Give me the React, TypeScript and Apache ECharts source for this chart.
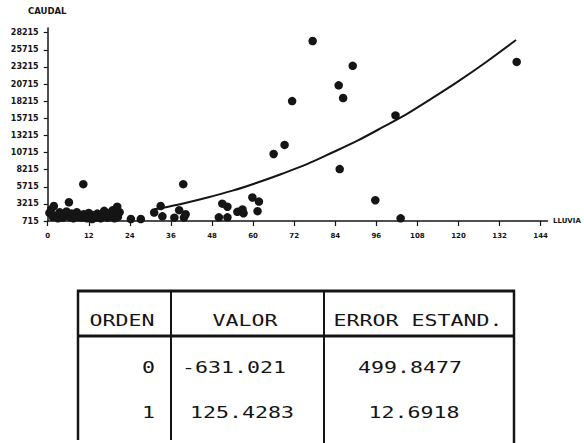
import React, { useEffect, useRef } from "react";
import * as echarts from "echarts";

const caudalTicks = [715, 3215, 5715, 8215, 10715, 13215, 15715, 18215, 20715, 23215, 25715, 28215];
const lluviaTicks = [0, 12, 24, 36, 48, 60, 72, 84, 96, 108, 120, 132, 144];

const obsLluvia = [
  0.5, 1, 1.5, 1.8, 2.5, 3, 3.5, 4, 4.5, 5, 5.5, 6.2, 6.5, 7, 7.5, 8, 8.5, 9, 10.4, 10, 10.5, 11,
  11.5, 12, 12.5, 13, 13.5, 14, 14.5, 15, 15.5, 16, 16.5, 17, 17.5, 18, 18.5, 19, 19.5, 20, 20.3,
  20.5, 21,
  24.3, 27.2, 31.1, 33, 33.5, 37, 38.4, 39.8, 40.3, 39.6,
  50, 52.5, 51, 52.5, 55.4, 56.9, 57.2, 59.8, 61.7, 61.3,
  66, 69.2, 71.4, 77.4, 85, 86.3, 85.3, 89.1, 95.7, 101.6, 103.1, 137,
];
const obsCaudal = [
  1900, 2400, 1300, 2900, 1500, 1100, 2000, 1700, 1200, 1500, 2100, 3450, 1300, 1800, 1100, 1500,
  2000, 1300, 6100, 1200, 1700, 1400, 1100, 1900, 1300, 1000, 1600, 1200, 1800, 1400, 1100, 1700,
  2200, 1500, 1200, 1900, 1500, 2300, 1100, 1800, 2800, 1300, 2000,
  1000, 1000, 1950, 2900, 1400, 1200, 2300, 1200, 1700, 6100,
  1250, 1250, 3250, 2800, 2050, 2400, 1850, 4150, 3550, 2150,
  10500, 11830, 18230, 27000, 20530, 18670, 8300, 23370, 3750, 16130, 1100, 23950,
];

const curveLluvia = [31.1, 38, 46.7, 54, 61.3, 68.5, 75.9, 83, 90.5, 98, 105.1, 112, 119.7, 128, 136.8];
const curveCaudal = [2430, 3100, 4150, 5150, 6330, 7620, 9050, 10680, 12450, 14450, 16400, 18550, 21030, 23900, 27140];

const tableHeader = ["ORDEN", "VALOR", "ERROR ESTAND."];
const orden = ["0", "1"];
const valor = ["-631.021", "125.4283"];
const errorEstand = ["499.8477", "12.6918"];

const INK = "#151515";
const MONO = '"DejaVu Sans Mono", "Liberation Mono", monospace';

export default function App() {
  const ref = useRef<HTMLDivElement>(null);

  useEffect(() => {
    document.body.style.margin = "0";
    if (!ref.current) return;
    const chart = echarts.init(ref.current, undefined, { renderer: "svg" });

    const line = (x1: number, y1: number, x2: number, y2: number, w: number) => ({
      type: "line",
      shape: { x1, y1, x2, y2 },
      style: { stroke: INK, lineWidth: w },
      silent: true,
    });
    const monoText = (text: string, x: number, y: number, align: string) => ({
      type: "text",
      x,
      y,
      scaleX: 1.35,
      style: {
        text,
        fill: INK,
        fontFamily: MONO,
        fontSize: 16,
        textAlign: align,
        textVerticalAlign: "middle",
      },
      silent: true,
    });

    const rowY = [367, 412];
    const graphic: any[] = [
      {
        type: "text",
        x: 28,
        y: 11,
        style: { text: "CAUDAL", fill: INK, fontFamily: "DejaVu Sans", fontWeight: "bold", fontSize: 8.5, textVerticalAlign: "middle" },
      },
      {
        type: "text",
        x: 553,
        y: 221,
        style: { text: "LLUVIA", fill: INK, fontFamily: "DejaVu Sans", fontWeight: "bold", fontSize: 7, textVerticalAlign: "middle" },
      },
      line(77, 291, 515, 291, 3),
      line(78, 290, 78, 440, 2.5),
      line(514, 290, 514, 443, 2.5),
      line(171, 291, 171, 440, 2),
      line(324, 291, 324, 443, 2),
      line(78, 336, 514, 336, 3),
      monoText(tableHeader[0], 122, 320, "center"),
      monoText(tableHeader[1], 245, 320, "center"),
      monoText(tableHeader[2], 418, 320, "center"),
    ];
    orden.forEach((o, i) => {
      graphic.push(monoText(o, 155, rowY[i], "right"));
    });
    valor.forEach((v, i) => {
      graphic.push(monoText(v, i === 0 ? 182 : 190, rowY[i], "left"));
    });
    errorEstand.forEach((e, i) => {
      graphic.push(monoText(e, i === 0 ? 410 : 414, rowY[i], "center"));
    });

    chart.setOption({
      animation: false,
      backgroundColor: "#ffffff",
      grid: { left: 47.7, right: 36.5, top: 28, bottom: 222 },
      xAxis: {
        type: "value",
        min: 0,
        max: 146,
        axisLine: { lineStyle: { color: INK, width: 1.5 } },
        axisTick: { customValues: lluviaTicks, length: 5, lineStyle: { color: INK, width: 1.2 } },
        axisLabel: {
          customValues: lluviaTicks,
          formatter: (v: number) => String(v),
          fontSize: 7,
          fontWeight: "bold",
          fontFamily: "DejaVu Sans",
          color: INK,
          margin: 11,
        },
        splitLine: { show: false },
      },
      yAxis: {
        type: "value",
        min: 715,
        max: 28900,
        axisLine: { show: true, lineStyle: { color: INK, width: 1.5 } },
        axisTick: { show: true, customValues: caudalTicks, length: 4, lineStyle: { color: INK, width: 1.2 } },
        axisLabel: {
          customValues: caudalTicks,
          formatter: (v: number) => String(v),
          fontSize: 8,
          fontWeight: "bold",
          fontFamily: "DejaVu Sans",
          color: INK,
          margin: 9,
        },
        splitLine: { show: false },
      },
      series: [
        {
          type: "scatter",
          symbolSize: 8.5,
          itemStyle: { color: INK, opacity: 1 },
          data: obsLluvia.map((x, i) => [x, obsCaudal[i]]),
          z: 3,
        },
        {
          type: "line",
          smooth: 0.3,
          showSymbol: false,
          lineStyle: { color: INK, width: 2 },
          data: curveLluvia.map((x, i) => [x, curveCaudal[i]]),
          z: 2,
        },
      ],
      graphic,
    });

    return () => chart.dispose();
  }, []);

  return <div ref={ref} style={{ width: 584, height: 443 }} />;
}
